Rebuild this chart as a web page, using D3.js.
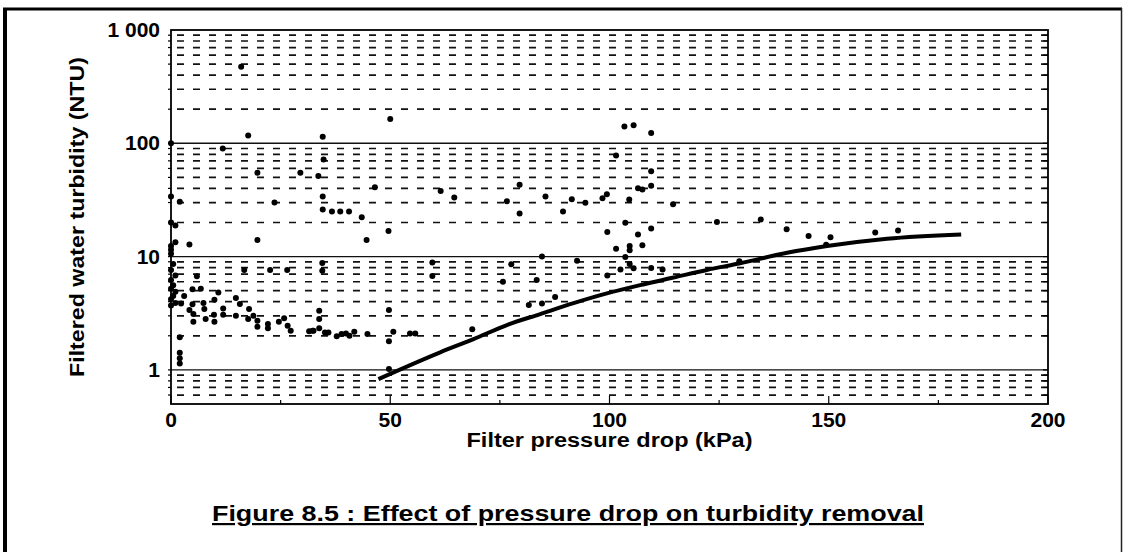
<!DOCTYPE html>
<html>
<head>
<meta charset="utf-8">
<script src="https://cdn.jsdelivr.net/npm/d3@7"></script>
<style>
  body { margin: 0; background: #fff; }
  svg { display: block; font-family: "Liberation Sans", Arial, sans-serif; font-weight: bold; }
</style>
</head>
<body>
<script>
// measured turbidity points: [pressure drop kPa, turbidity NTU]
let points = [
  [0, 100], [0, 34], [0, 20], [1, 18.8], [1, 13.4], [0, 12.4], [0, 11.5], [0, 10.6],
  [0.5, 8.6], [0, 7.6], [1, 6.8], [0, 6.2], [0.5, 5.6], [0, 5.2], [1, 4.9], [0.5, 4.5],
  [0, 4.2], [1, 3.9], [0, 3.7],
  [2, 30.5], [2, 1.94], [2, 1.42], [2, 1.27], [2, 1.14],
  [4.2, 12.8], [5.9, 6.7], [4.9, 5.16], [6.8, 5.2], [3, 4.5], [10.8, 4.82], [2.3, 3.86],
  [4.9, 3.79], [4.2, 3.37], [5.1, 3.11], [5.1, 2.66], [7.4, 3.89], [7.6, 3.44], [7.9, 2.81],
  [9.9, 4.15], [9.8, 3.06], [9.9, 2.66], [11.9, 3.49], [11.9, 3.06], [14.8, 4.32], [15.7, 3.81],
  [14.8, 3.0], [17.8, 3.44], [18.8, 3.0], [19.7, 2.72], [19.7, 2.4], [17.6, 2.81], [22.1, 2.54],
  [22.1, 2.33], [24.6, 2.66], [25.8, 2.85], [26.6, 2.45], [27.3, 2.22], [31.5, 2.19], [32.5, 2.22],
  [16.7, 7.6], [22.6, 7.6], [26.5, 7.6],
  [19.7, 14], [23.6, 30], [11.8, 90], [16, 475], [17.6, 117], [19.7, 55], [29.5, 55],
  [34.6, 114], [34.8, 72], [33.6, 51.5], [34.6, 34], [34.6, 26], [36.7, 25], [38.6, 25],
  [40.6, 25], [43.5, 22.3], [44.6, 14], [46.5, 41], [49.6, 16.8], [50, 164],
  [34.5, 8.8], [34.5, 7.5], [33.8, 3.32], [33.8, 2.81], [32.3, 2.22], [33.8, 2.33], [35.1, 2.14],
  [35.9, 2.14], [37.8, 1.98], [38.9, 2.07], [39.9, 2.1], [40.7, 2.0], [41.8, 2.17], [44.8, 2.07],
  [49.7, 3.37], [49.7, 1.79], [50.7, 2.17], [54.5, 2.1], [55.7, 2.1], [49.7, 1.02],
  [59.6, 8.86], [59.6, 6.75], [61.5, 38], [64.6, 33.3], [68.7, 2.29],
  [75.7, 6.0], [83.4, 6.2], [87.6, 4.4], [81.6, 3.73], [84.6, 3.86], [77.6, 8.55], [84.6, 10], [92.6, 9.2],
  [79.5, 43], [76.6, 30.8], [79.5, 24], [85.4, 34], [89.4, 25], [91.4, 32], [94.5, 29.9], [98.4, 32.8],
  [99.4, 35.5], [104.5, 31.9], [106.5, 40.1], [107.5, 39.1], [109.5, 42.1], [109.5, 56.6], [101.5, 78],
  [103.4, 141], [105.5, 144], [109.5, 123],
  [103.6, 19.9], [99.5, 16.5], [106.5, 15.7], [109.5, 17.7], [101.5, 11.7], [104.6, 12.4], [104.6, 11.4],
  [107.5, 12.6], [103.6, 9.9], [102.5, 7.7], [104.6, 8.6], [105.5, 7.9], [109.5, 7.95], [112.1, 7.7], [99.5, 6.8],
  [114.5, 29], [124.5, 20.2], [134.5, 21.3], [140.4, 17.4], [145.4, 15.2], [150.4, 14.8], [149.4, 12.7],
  [160.6, 16.3], [165.8, 17], [129.6, 9.1]
];

// trend line
let trendX = [47.3, 61.4, 69.0, 76.6, 84.2, 91.8, 99.4, 107, 114.6, 122.2, 129.8, 140.5, 149.6, 163.3, 180.2];
let trendY = [0.83, 1.43, 1.87, 2.49, 3.11, 3.88, 4.73, 5.6, 6.53, 7.62, 8.73, 10.8, 12.4, 14.4, 15.7];

let xTicks = [0, 50, 100, 150, 200];
let yTicks = [1, 10, 100, 1000];
let yTickLabels = ['1', '10', '100', '1 000'];

let W = 1124, H = 552;
let margin = {top: 30, right: 76, bottom: 148, left: 171};

let x = d3.scaleLinear().domain([0, 200]).range([margin.left, W - margin.right]);
let y = d3.scaleLog().domain([0.5, 1000]).range([H - margin.bottom, margin.top]);

let svg = d3.select('body').append('svg')
    .attr('width', W)
    .attr('height', H);

// outer frame of the scanned figure
svg.append('line').attr('x1', 5).attr('x2', 5).attr('y1', 8).attr('y2', H)
    .attr('stroke', '#000').attr('stroke-width', 4);
svg.append('line').attr('x1', 3).attr('x2', 1122).attr('y1', 9).attr('y2', 9)
    .attr('stroke', '#000').attr('stroke-width', 3);
svg.append('line').attr('x1', 1121.5).attr('x2', 1121.5).attr('y1', 8).attr('y2', H)
    .attr('stroke', '#222').attr('stroke-width', 1.5);

let g = svg.append('g');

// log gridlines: solid at decades, dashed in between
let gridVals = y.ticks().filter(v => v > 0.5 && v < 1000);
let isDecade = v => Math.abs(Math.log10(v) - Math.round(Math.log10(v))) < 1e-9;

g.selectAll('.grid').data(gridVals).enter().append('line')
    .attr('class', 'grid')
    .attr('x1', x(0)).attr('x2', x(200))
    .attr('y1', d => y(d)).attr('y2', d => y(d))
    .attr('stroke', '#111')
    .attr('stroke-width', d => isDecade(d) ? 1.4 : 1.7)
    .attr('stroke-dasharray', d => isDecade(d) ? null : '7,9')
    .attr('stroke-dashoffset', -6);

// right and left minor ticks
g.selectAll('.rtick').data(gridVals).enter().append('line')
    .attr('x1', x(200) - 5).attr('x2', x(200))
    .attr('y1', d => y(d)).attr('y2', d => y(d))
    .attr('stroke', '#000').attr('stroke-width', 1.2);
g.selectAll('.ltick').data(gridVals).enter().append('line')
    .attr('x1', x(0) - 3).attr('x2', x(0))
    .attr('y1', d => y(d)).attr('y2', d => y(d))
    .attr('stroke', '#000').attr('stroke-width', 1.2);

// bottom ticks, pointing inward
let xMinor = d3.range(0, 201, 25);
g.selectAll('.btick').data(xMinor).enter().append('line')
    .attr('x1', d => x(d)).attr('x2', d => x(d))
    .attr('y1', y(0.5)).attr('y2', d => y(0.5) - (d % 50 === 0 ? 8 : 4))
    .attr('stroke', '#000').attr('stroke-width', 1.2);

// plot frame
g.append('rect')
    .attr('x', x(0)).attr('y', y(1000))
    .attr('width', x(200) - x(0)).attr('height', y(0.5) - y(1000))
    .attr('fill', 'none').attr('stroke', '#000').attr('stroke-width', 1.8);

// scatter
g.selectAll('.pt').data(points).enter().append('circle')
    .attr('cx', d => x(d[0])).attr('cy', d => y(d[1]))
    .attr('r', 3).attr('fill', '#000');

// trend
let trend = trendX.map((v, i) => [v, trendY[i]]);
g.append('path').datum(trend)
    .attr('d', d3.line().x(d => x(d[0])).y(d => y(d[1])).curve(d3.curveMonotoneX))
    .attr('fill', 'none').attr('stroke', '#000').attr('stroke-width', 4);

// tick labels
g.selectAll('.xl').data(xTicks).enter().append('text')
    .attr('x', d => x(d)).attr('y', 427)
    .attr('text-anchor', 'middle').attr('font-size', 21)
    .text(d => d);
g.selectAll('.yl').data(yTicks).enter().append('text')
    .attr('x', 160).attr('y', d => y(d) + 7)
    .attr('text-anchor', 'end').attr('font-size', 21)
    .text((d, i) => yTickLabels[i]);

// axis titles
svg.append('text')
    .attr('x', (x(0) + x(200)) / 2).attr('y', 447)
    .attr('text-anchor', 'middle').attr('font-size', 20)
    .attr('textLength', 286).attr('lengthAdjust', 'spacingAndGlyphs')
    .text('Filter pressure drop (kPa)');
svg.append('text')
    .attr('transform', `translate(84, ${(y(0.5) + y(1000)) / 2}) rotate(-90)`)
    .attr('text-anchor', 'middle').attr('font-size', 20)
    .attr('textLength', 320).attr('lengthAdjust', 'spacingAndGlyphs')
    .text('Filtered water turbidity (NTU)');

// caption
svg.append('text')
    .attr('x', 568).attr('y', 521)
    .attr('text-anchor', 'middle').attr('font-size', 22)
    .attr('text-decoration', 'underline')
    .attr('textLength', 712).attr('lengthAdjust', 'spacingAndGlyphs')
    .text('Figure 8.5 : Effect of pressure drop on turbidity removal');
</script>
</body>
</html>
